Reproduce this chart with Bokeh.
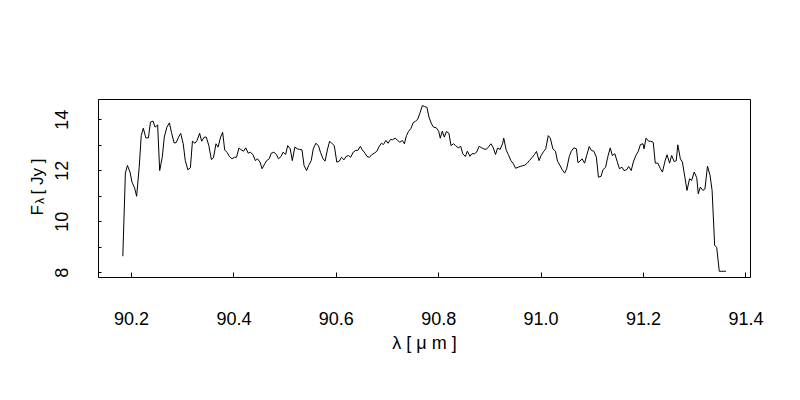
import math
from bokeh.plotting import figure
from bokeh.layouts import row
from bokeh.models import Range1d, FixedTicker, NumeralTickFormatter
from bokeh.core.properties import value
from bokeh.embed import file_html
from bokeh.resources import INLINE

# Spectrum: wavelength [micron] and flux density [Jy]
wavelength = [
    90.183, 90.188, 90.192, 90.197, 90.201, 90.206, 90.210, 90.215, 90.219, 90.223,
    90.228, 90.233, 90.237, 90.242, 90.246, 90.251, 90.255, 90.260, 90.264, 90.269,
    90.274, 90.278, 90.283, 90.287, 90.292, 90.296, 90.301, 90.305, 90.310, 90.315,
    90.319, 90.324, 90.328, 90.333, 90.337, 90.342, 90.346, 90.351, 90.356, 90.360,
    90.365, 90.369, 90.374, 90.378, 90.382, 90.387, 90.391, 90.396, 90.401, 90.405,
    90.410, 90.414, 90.419, 90.423, 90.428,
    90.432, 90.437, 90.442, 90.446, 90.451, 90.455, 90.460, 90.464, 90.469, 90.473,
    90.478, 90.483, 90.487, 90.492, 90.496, 90.501, 90.505, 90.510, 90.514, 90.519,
    90.524, 90.528, 90.533, 90.537, 90.542, 90.546, 90.551, 90.555, 90.560, 90.565,
    90.569, 90.574, 90.578, 90.583, 90.587, 90.592, 90.596, 90.601, 90.606, 90.610,
    90.615, 90.619, 90.624, 90.628, 90.633, 90.638, 90.642, 90.647, 90.651, 90.656,
    90.660, 90.665, 90.669, 90.674, 90.679, 90.683, 90.688, 90.692, 90.697, 90.701,
    90.706, 90.710, 90.715, 90.720, 90.724, 90.729, 90.733, 90.737, 90.741, 90.746,
    90.750, 90.755, 90.759, 90.764,
    90.768, 90.772, 90.777, 90.781, 90.786, 90.790, 90.795, 90.800, 90.803, 90.807,
    90.811, 90.815, 90.820, 90.824, 90.829, 90.833, 90.838, 90.843, 90.847, 90.852,
    90.856, 90.861, 90.865, 90.870, 90.874, 90.879, 90.884, 90.888, 90.893, 90.897,
    90.902, 90.906, 90.911, 90.915, 90.920, 90.925, 90.927, 90.932, 90.936, 90.941,
    90.946, 90.950, 90.955, 90.959, 90.964, 90.968, 90.973, 90.977, 90.982, 90.987,
    90.991, 90.996, 91.000, 91.005, 91.009, 91.014, 91.018, 91.023, 91.028, 91.032,
    91.037, 91.041, 91.046, 91.050, 91.055, 91.059, 91.064, 91.069, 91.072, 91.076,
    91.080, 91.085, 91.089, 91.094, 91.098, 91.103, 91.108, 91.112, 91.117, 91.121,
    91.126, 91.130, 91.135, 91.139, 91.144, 91.149, 91.153, 91.158, 91.162, 91.167,
    91.171, 91.176, 91.180, 91.185, 91.190, 91.194, 91.199, 91.201, 91.205, 91.210,
    91.214, 91.219, 91.223, 91.228, 91.233, 91.237, 91.242, 91.246, 91.251, 91.255,
    91.260, 91.264, 91.267, 91.272, 91.276, 91.281, 91.285, 91.290, 91.294, 91.299,
    91.304, 91.307, 91.311, 91.316, 91.320, 91.325, 91.330, 91.334, 91.339, 91.343,
    91.348, 91.352, 91.357, 91.361,
]
flux = [
    8.65, 11.91, 12.21, 11.95, 11.55, 11.33, 11.00, 12.14, 13.38, 13.67,
    13.29, 13.29, 13.91, 13.95, 13.71, 13.80, 12.01, 12.53, 13.32, 13.71,
    13.88, 13.51, 13.10, 13.10, 13.32, 13.47, 13.06, 12.40, 12.04, 12.12,
    13.16, 13.08, 13.19, 13.47, 13.16, 13.32, 13.32, 12.99, 12.44, 12.51,
    13.06, 12.93, 13.32, 13.51, 12.82, 12.71, 12.57, 12.47, 12.53, 12.53,
    12.90, 12.82, 12.77, 12.90, 12.69,
    12.73, 12.64, 12.40, 12.47, 12.34, 12.08, 12.27, 12.40, 12.47, 12.69,
    12.73, 12.64, 12.47, 12.56, 12.73, 12.64, 12.99, 12.86, 12.40, 12.93,
    12.86, 12.84, 12.82, 12.21, 12.01, 12.21, 12.40, 12.86, 13.08, 12.99,
    12.73, 12.47, 12.38, 12.86, 13.16, 13.06, 12.99, 12.34, 12.38, 12.53,
    12.43, 12.56, 12.60, 12.53, 12.73, 12.80, 12.80, 12.96, 12.82, 12.69,
    12.56, 12.53, 12.63, 12.69, 12.76, 12.93, 13.08, 13.03, 13.19, 13.08,
    13.23, 13.22, 13.28, 13.19, 13.12, 13.19, 13.06, 13.38, 13.54, 13.67,
    13.88, 13.95, 14.02, 14.30,
    14.56, 14.52, 14.49, 14.10, 13.84, 13.71, 13.69, 13.55, 13.28, 13.55,
    13.32, 13.54, 13.47, 12.99, 13.06, 12.99, 12.90, 12.96, 12.67, 12.56,
    12.77, 12.57, 12.67, 12.67, 12.73, 12.96, 12.90, 12.86, 12.84, 12.93,
    13.06, 12.93, 12.64, 12.89, 12.84, 13.08, 13.28, 12.80, 12.64, 12.40,
    12.27, 12.10, 12.14, 12.17, 12.20, 12.22, 12.30, 12.40, 12.51, 12.64,
    12.76, 12.40, 12.60, 12.76, 12.86, 13.38, 13.28, 12.86, 12.77, 12.38,
    12.21, 12.05, 11.91, 12.08, 12.56, 12.77, 12.90, 12.86, 12.32, 12.38,
    12.47, 12.30, 12.60, 12.95, 12.80, 12.77, 12.53, 11.75, 11.78, 12.05,
    12.14, 12.53, 12.90, 12.60, 12.67, 12.34, 12.08, 12.14, 12.01, 12.04,
    12.17, 12.01, 12.34, 12.60, 12.77, 13.03, 13.06, 12.86, 13.28, 13.16,
    13.16, 13.12, 12.30, 12.30, 12.08, 11.95, 12.38, 12.63, 12.30, 12.60,
    12.36, 12.40, 13.02, 12.47, 12.34, 11.73, 11.23, 11.69, 11.62, 11.95,
    11.73, 11.10, 11.36, 11.23, 11.29, 12.18, 11.82, 11.23, 9.07, 9.00,
    8.06, 8.06, 8.06, 8.06,
]

x_ticks = [90.2, 90.4, 90.6, 90.8, 91.0, 91.2, 91.4]
y_ticks_labelled = [8, 10, 12, 14]
y_ticks_unlabelled = [9, 11, 13]
x_title = "λ [ μ m ]"
y_title_parts = ["F", "λ", "[ Jy ]"]
y_title_sizes = ["17px", "12px", "17px"]

FONT = "Liberation Sans"
X0, X1 = 90.1355, 91.409
Y0, Y1 = 7.816, 14.796

# ---- main plot ----
p = figure(
    width=750, height=400,
    output_backend="svg", toolbar_location=None,
    x_range=Range1d(X0, X1), y_range=Range1d(Y0, Y1),
    min_border_left=48, min_border_right=50,
    min_border_top=99, min_border_bottom=123,
)
p.background_fill_color = "white"
p.border_fill_color = "white"
p.outline_line_color = "black"
p.outline_line_width = 1
p.outline_line_alpha = 1.0
p.grid.visible = False

p.line(wavelength, flux, line_color="black", line_width=1)

xa = p.xaxis[0]
xa.ticker = FixedTicker(ticks=x_ticks, minor_ticks=[])
xa.formatter = NumeralTickFormatter(format="0.0")
xa.axis_line_color = None
xa.major_tick_in = 5
xa.major_tick_out = 0
xa.major_tick_line_color = "black"
xa.minor_tick_line_color = None
xa.major_label_text_font = FONT
xa.major_label_text_font_size = "18px"
xa.major_label_text_color = "black"
xa.major_label_standoff = 34
xa.axis_label = x_title
xa.axis_label_text_font = FONT
xa.axis_label_text_font_size = "18px"
xa.axis_label_text_font_style = "normal"
xa.axis_label_text_color = "black"
xa.axis_label_standoff = 5

ya = p.yaxis[0]
ya.ticker = FixedTicker(ticks=y_ticks_labelled, minor_ticks=y_ticks_unlabelled)
ya.formatter = NumeralTickFormatter(format="0")
ya.axis_line_color = None
ya.major_tick_in = 3
ya.major_tick_out = 0
ya.minor_tick_in = 3
ya.minor_tick_out = 0
ya.major_tick_line_color = "black"
ya.minor_tick_line_color = "black"
ya.major_label_orientation = "vertical"
ya.major_label_text_font = FONT
ya.major_label_text_font_size = "18px"
ya.major_label_text_color = "black"
ya.major_label_standoff = 30

# ---- narrow strip on the left carrying the y-axis title (F with subscript lambda) ----
# it shares the flux range, so its frame lines up with the main frame
t = figure(
    width=50, height=400,
    output_backend="svg", toolbar_location=None,
    x_range=Range1d(0, 50), y_range=p.y_range,
    x_axis_type=None, y_axis_type=None,
    min_border_left=0, min_border_right=0,
    min_border_top=99, min_border_bottom=123,
)
t.outline_line_color = None
t.background_fill_color = "white"
t.border_fill_color = "white"
t.grid.visible = False
title_x = [37, 39.5, 37]          # strip pixels from its left edge
title_y = [10.247, 10.698, 11.071]  # along the flux axis
for tx, ty, txt, sz in zip(title_x, title_y, y_title_parts, y_title_sizes):
    t.text(x=[tx], y=[ty], text=[txt], angle=math.pi / 2,
           text_align="left", text_baseline="alphabetic",
           text_font=value(FONT), text_font_size=value(sz), text_color="black")

layout = row(t, p, spacing=0)
open("out.html", "w").write(file_html(layout, INLINE))
